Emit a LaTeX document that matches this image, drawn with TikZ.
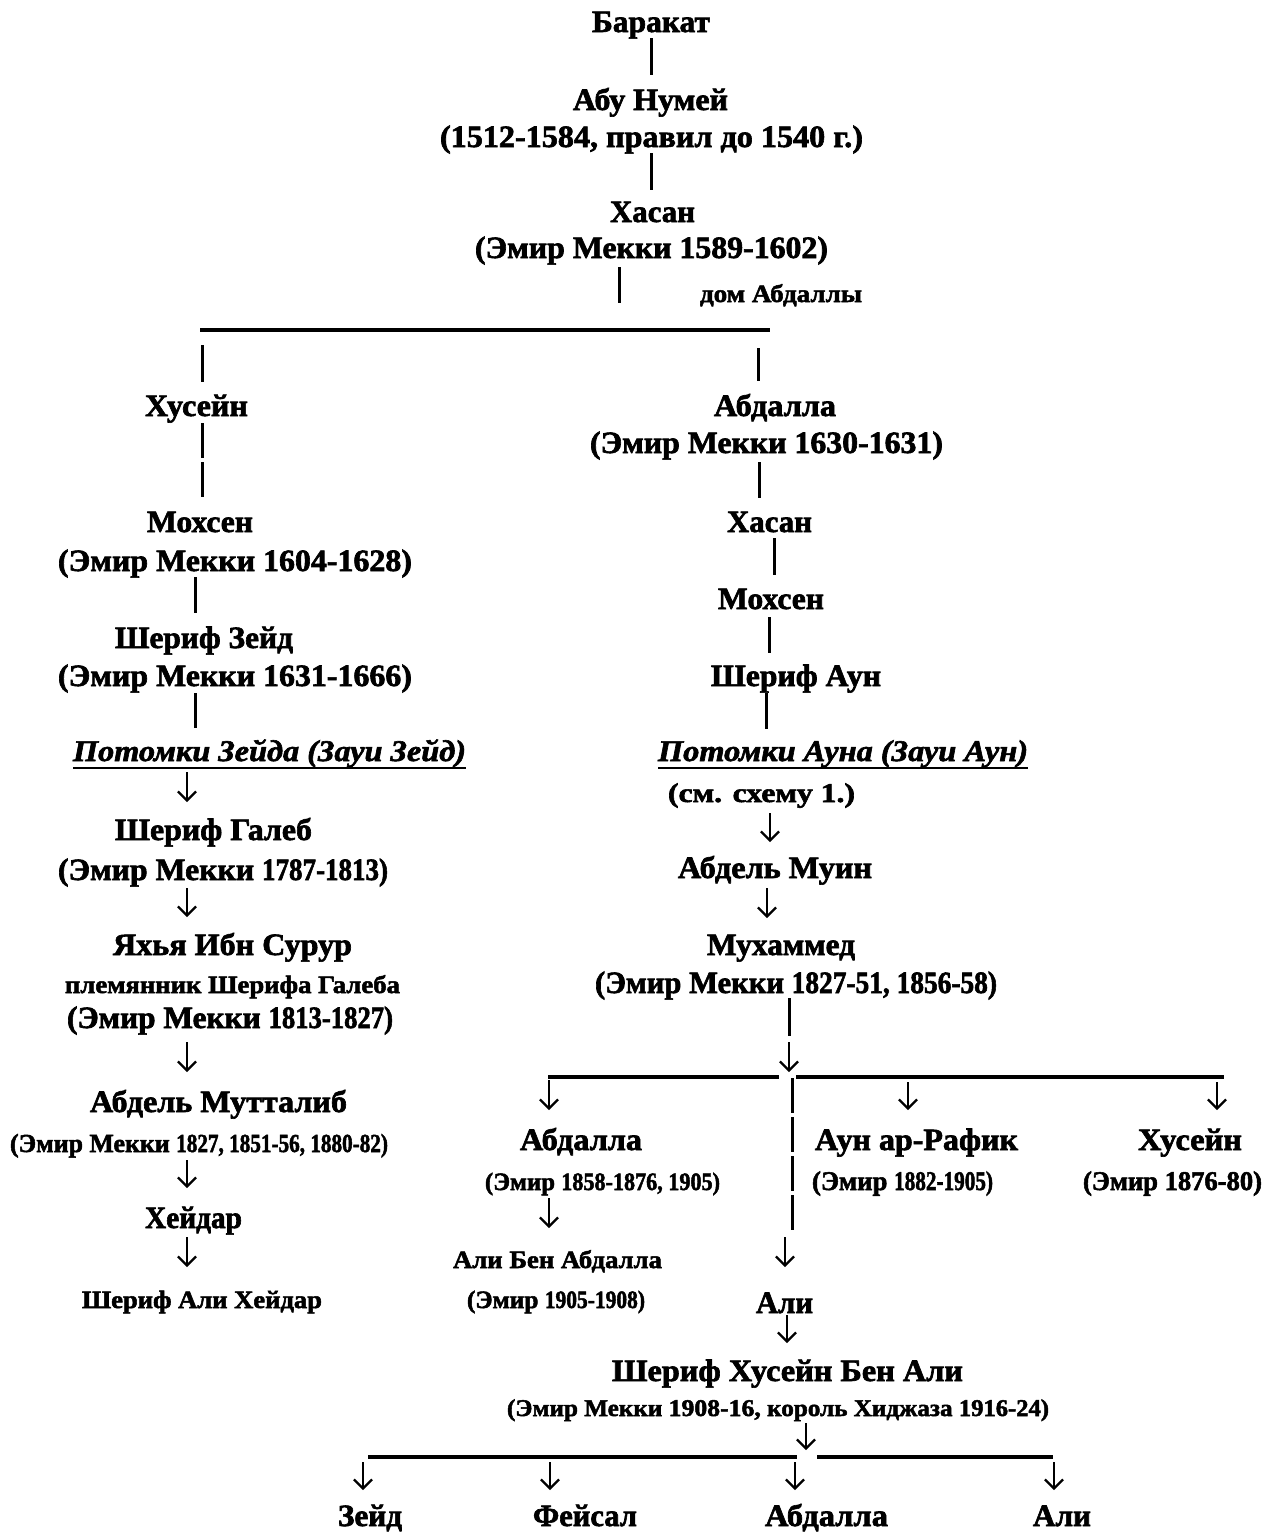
\documentclass[tikz,border=0pt]{standalone}
\usepackage{fontspec}
\setmainfont{Liberation Serif}[BoldFeatures={FakeBold=2}, BoldItalicFeatures={FakeBold=2}]
\usepackage{graphicx}
\usetikzlibrary{arrows.meta}
\newlength\fwlen
\newcommand\fw[2]{\settowidth\fwlen{#2}\pgfmathsetmacro\fwf{#1/\fwlen}\scalebox{\fwf}[1]{#2}}
\tikzset{
  lbl/.style={anchor=base, inner sep=0pt, outer sep=0pt},
  big/.style={lbl, font=\fontsize{31}{31}\selectfont\bfseries, text height=21pt, text depth=7pt},
  sm/.style={lbl, font=\fontsize{#1}{#1}\selectfont\bfseries, text height=17pt, text depth=6pt},
  sm/.default=25,
  desc/.style={lbl, font=\fontsize{30}{30}\selectfont\bfseries\itshape, text height=21pt, text depth=7pt},
  vl/.style={line width=3pt},
  arr/.style={line width=2.2pt, -{Straight Barb[length=9pt,width=18pt]}},
  bus/.style={line width=3.5pt},
  uline/.style={line width=2.8pt}
}
\begin{document}
\begin{tikzpicture}[x=1pt,y=-1pt]
\fill[white] (0,0) rectangle (1274,1532);
\useasboundingbox (0,0) rectangle (1274,1532);

% top
\node[big] (barakat) at (651,32) {\fw{118}{Баракат}};
\node[big] (abu1) at (650.5,110) {\fw{155}{Абу Нумей}};
\node[big] (abu2) at (651.5,147) {\fw{423}{(1512-1584, правил до 1540 г.)}};
\node[big] (hasan1) at (652.5,222) {\fw{85}{Хасан}};
\node[big] (hasan2) at (651.5,258) {\fw{353}{(Эмир Мекки 1589-1602)}};
\node[sm] (dom) at (781,302) {\fw{162}{дом Абдаллы}};

% left branch
\node[big] (husL) at (196.5,416) {\fw{103}{Хусейн}};
\node[big] (mohL1) at (200,532) {\fw{106}{Мохсен}};
\node[big] (mohL2) at (235,571) {\fw{354}{(Эмир Мекки 1604-1628)}};
\node[big] (zeid1) at (204,648) {\fw{178}{Шериф Зейд}};
\node[big] (zeid2) at (235,686) {\fw{354}{(Эмир Мекки 1631-1666)}};
\node[desc] (zdesc) at (269.5,761) {\fw{393}{Потомки Зейда (Зауи Зейд)}};
\node[big] (galeb1) at (213.5,840) {\fw{197}{Шериф Галеб}};
\node[big] (galeb2) at (223,880) {\fw{330}{(Эмир Мекки \fw{123}{1787-1813)}}};
\node[big] (yahya1) at (232.5,955) {\fw{239}{Яхья Ибн Сурур}};
\node[sm] (yahya2) at (232.5,993) {\fw{335}{племянник Шерифа Галеба}};
\node[big] (yahya3) at (230,1028) {\fw{326}{(Эмир Мекки \fw{123}{1813-1827)}}};
\node[big] (mut1) at (218.5,1112) {\fw{257}{Абдель Мутталиб}};
\node[sm=26] (mut2) at (199,1152) {\fw{378}{(Эмир Мекки \fw{213}{1827, 1851-56, 1880-82)}}};
\node[big] (heid) at (193.5,1228) {\fw{97}{Хейдар}};
\node[sm] (aliheid) at (202,1308) {\fw{240}{Шериф Али Хейдар}};

% right branch
\node[big] (abdR1) at (775,416) {\fw{122}{Абдалла}};
\node[big] (abdR2) at (766.5,453) {\fw{353}{(Эмир Мекки 1630-1631)}};
\node[big] (hasR) at (769.5,532) {\fw{85}{Хасан}};
\node[big] (mohR) at (771,609) {\fw{106}{Мохсен}};
\node[big] (aun) at (796,686) {\fw{170}{Шериф Аун}};
\node[desc] (adesc) at (843,761) {\fw{370}{Потомки Ауна (Зауи Аун)}};
\node[sm=27] (see) at (761.5,802) {\fw{187}{(см. схему 1.)}};
\node[big] (muin) at (775,878) {\fw{194}{Абдель Муин}};
\node[big] (muh1) at (781,955) {\fw{148}{Мухаммед}};
\node[big] (muh2) at (796,993) {\fw{402}{(Эмир Мекки \fw{208}{1827-51, 1856-58)}}};

\node[big] (abd3a) at (581,1150) {\fw{122}{Абдалла}};
\node[sm] (abd3b) at (602.5,1190) {\fw{235}{(Эмир \fw{160}{1858-1876, 1905)}}};
\node[sm] (alibenab1) at (557.5,1268) {\fw{209}{Али Бен Абдалла}};
\node[sm] (alibenab2) at (556,1308) {\fw{178}{(Эмир \fw{99}{1905-1908)}}};
\node[big] (aunraf1) at (916.5,1150) {\fw{203}{Аун ар-Рафик}};
\node[sm=27] (aunraf2) at (902.5,1190) {\fw{181}{(Эмир \fw{100}{1882-1905)}}};
\node[big] (hus41) at (1190,1150) {\fw{104}{Хусейн}};
\node[sm=27] (hus42) at (1172.5,1190) {\fw{179}{(Эмир 1876-80)}};
\node[big] (ali) at (784.5,1313) {\fw{57}{Али}};
\node[big] (sherhus1) at (787.5,1381) {\fw{351}{Шериф Хусейн Бен Али}};
\node[sm=24] (sherhus2) at (778,1416) {\fw{542}{(Эмир Мекки \fw{88}{1908-16,} король Хиджаза \fw{86}{1916-24)}}};
\node[big] (zeidB) at (370,1526) {\fw{64}{Зейд}};
\node[big] (faisal) at (585,1526) {\fw{104}{Фейсал}};
\node[big] (abdB) at (826.5,1526) {\fw{123}{Абдалла}};
\node[big] (aliB) at (1062,1526) {\fw{58}{Али}};

% underlines
\draw[uline] (zdesc.south west) -- (zdesc.south east);
\draw[uline] (adesc.south west) -- (adesc.south east);

% bus coordinates
\coordinate (b1L) at (200,330); \coordinate (b1R) at (770,330);
\coordinate (b1h) at (619,330); \coordinate (b1a) at (202,330); \coordinate (b1b) at (758,330);
\coordinate (b2L1) at (548,1077); \coordinate (b2R1) at (779,1077);
\coordinate (b2L2) at (796,1077); \coordinate (b2R2) at (1224,1077);
\coordinate (b2m) at (789,1077); \coordinate (b2a) at (549,1077); \coordinate (b2c) at (908,1077);
\coordinate (b2d) at (1217,1077); \coordinate (b2e) at (792,1077);
\coordinate (alitop) at (785,1237);
\coordinate (b3L1) at (368,1457); \coordinate (b3R1) at (797,1457);
\coordinate (b3L2) at (817,1457); \coordinate (b3R2) at (1053,1457);
\coordinate (b3m) at (806,1457); \coordinate (b3a) at (363,1457); \coordinate (b3b) at (550,1457);
\coordinate (b3c) at (795,1457); \coordinate (b3d) at (1054,1457);

\draw[bus] (b1L) -- (b1R);
\draw[bus] (b2L1) -- (b2R1);
\draw[bus] (b2L2) -- (b2R2);
\draw[bus] (b3L1) -- (b3R1);
\draw[bus] (b3L2) -- (b3R2);

% top connectors
\draw[vl, shorten <=-1pt, shorten >=14pt] (barakat.south -| 651,0) -- (abu1.north -| 651,0);
\draw[vl, shorten <=-1pt, shorten >=11pt] (abu2.south -| 651,0) -- (hasan1.north -| 651,0);
\draw[vl, shorten <=2pt, shorten >=27pt] (hasan2.south -| b1h) -- (b1h);
\draw[vl, shorten <=15pt, shorten >=13pt] (b1a) -- (husL.north -| b1a);
\draw[vl, shorten <=18pt, shorten >=14pt] (b1b) -- (abdR1.north -| b1b);

% left connectors
\draw[vl, dash pattern=on 35pt off 4pt, shorten >=13pt] (husL.south -| 202,0) -- (mohL1.north -| 202,0);
\draw[vl, shorten <=-1pt, shorten >=14pt] (mohL2.south -| 195,0) -- (zeid1.north -| 195,0);
\draw[vl, shorten >=12pt] (zeid2.south -| 195,0) -- (zdesc.north -| 195,0);
\draw[arr, shorten <=4pt, shorten >=17pt] (zdesc.south -| 187,0) -- (galeb1.north -| 187,0);
\draw[arr, shorten <=1pt, shorten >=17pt] (galeb2.south -| 187,0) -- (yahya1.north -| 187,0);
\draw[arr, shorten <=7pt, shorten >=19pt] (yahya3.south -| 187,0) -- (mut1.north -| 187,0);
\draw[arr, shorten <=2pt, shorten >=19pt] (mut2.south -| 187,0) -- (heid.north -| 187,0);
\draw[arr, shorten <=2pt, shorten >=24pt] (heid.south -| 187,0) -- (aliheid.north -| 187,0);

% right connectors
\draw[vl, shorten <=2pt, shorten >=13pt] (abdR2.south -| 759,0) -- (hasR.north -| 759,0);
\draw[vl, shorten <=-1pt, shorten >=13pt] (hasR.south -| 774,0) -- (mohR.north -| 774,0);
\draw[vl, shorten <=1pt, shorten >=12pt] (mohR.south -| 769,0) -- (aun.north -| 769,0);
\draw[vl, shorten >=11pt] (aun.south -| 766,0) -- (adesc.north -| 766,0);
\draw[arr, shorten <=5pt, shorten >=15pt] (see.south -| 770,0) -- (muin.north -| 770,0);
\draw[arr, shorten <=3pt, shorten >=16pt] (muin.south -| 767,0) -- (muh1.north -| 767,0);
\draw[vl, shorten <=-2pt, shorten >=41pt] (muh2.south -| b2m) -- (b2m);
\draw[arr, shorten <=42pt, shorten >=5pt] (muh2.south -| b2m) -- (b2m);

\draw[arr, shorten <=3pt, shorten >=19pt] (b2a) -- (abd3a.north -| b2a);
\draw[arr, shorten <=5pt, shorten >=19pt] (b2c) -- (aunraf1.north -| b2c);
\draw[arr, shorten <=5pt, shorten >=19pt] (b2d) -- (hus41.north -| b2d);
\draw[vl, dash pattern=on 35pt off 4pt, shorten <=1pt, shorten >=59pt] (b2e) -- (ali.north -| b2e);
\draw[arr, shorten >=25pt] (alitop) -- (ali.north -| alitop);
\draw[arr, shorten <=2pt, shorten >=23pt] (abd3b.south -| 549,0) -- (alibenab1.north -| 549,0);
\draw[arr, shorten <=-5pt, shorten >=17pt] (ali.south -| 787,0) -- (sherhus1.north -| 787,0);
\draw[arr, shorten <=1pt, shorten >=7pt] (sherhus2.south -| b3m) -- (b3m);

\draw[arr, shorten <=5pt, shorten >=15pt] (b3a) -- (zeidB.north -| b3a);
\draw[arr, shorten <=5pt, shorten >=15pt] (b3b) -- (faisal.north -| b3b);
\draw[arr, shorten <=5pt, shorten >=15pt] (b3c) -- (abdB.north -| b3c);
\draw[arr, shorten <=5pt, shorten >=15pt] (b3d) -- (aliB.north -| b3d);
\end{tikzpicture}
\end{document}
